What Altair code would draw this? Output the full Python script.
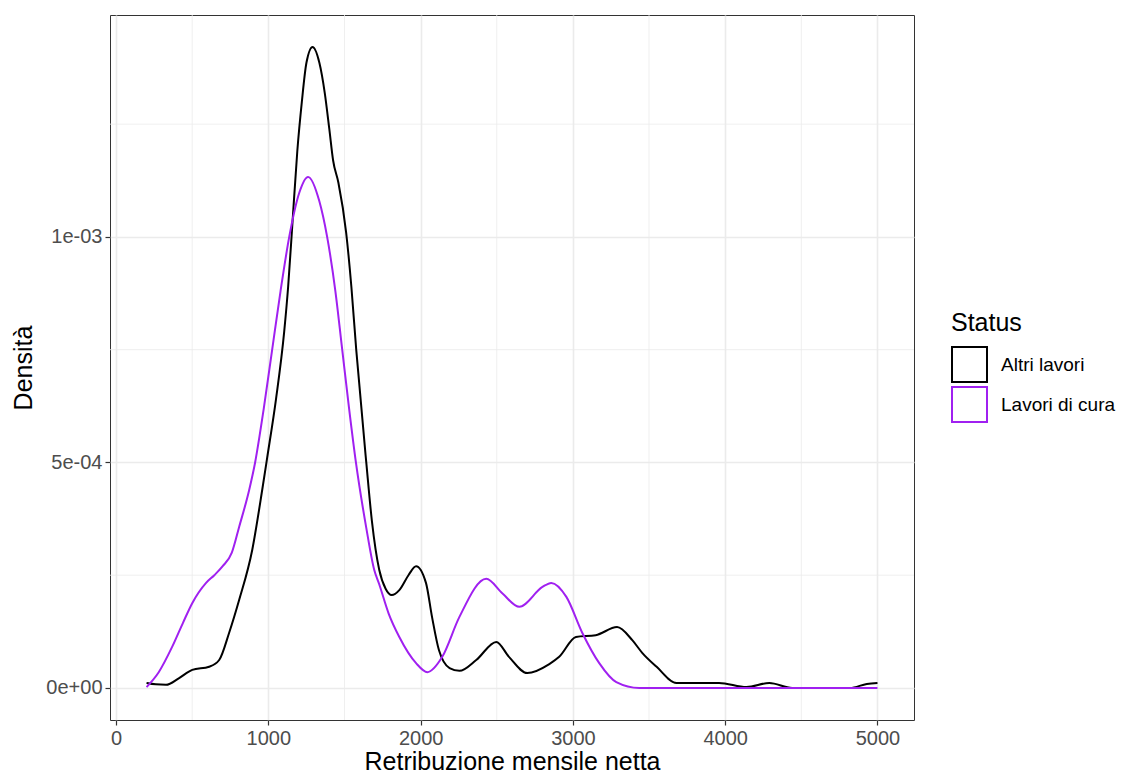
import altair as alt
import pandas as pd

# --- data ---
altri_x = [200, 260, 328, 414, 500, 611, 677, 742, 808, 894, 960, 992, 1050, 1104,
           1130, 1158, 1190, 1220, 1250, 1290, 1335, 1370, 1400, 1425, 1460, 1511,
           1545, 1577, 1643, 1680, 1728, 1770, 1810, 1860, 1920, 1970, 2035, 2075,
           2120, 2190, 2255, 2365, 2497, 2580, 2700, 2845, 2910, 3020, 3150, 3290,
           3390, 3455, 3550, 3680, 3830, 3960, 4140, 4290, 4440, 4820, 4930, 5000]
altri_y = [1.1e-5, 8e-6, 7e-6, 2.2e-5, 4.0e-5, 4.7e-5, 6.2e-5, 1.22e-4, 1.95e-4,
           3.06e-4, 4.4e-4, 5.1e-4, 6.4e-4, 7.9e-4, 8.9e-4, 1.03e-3, 1.19e-3, 1.30e-3,
           1.386e-3, 1.421e-3, 1.386e-3, 1.32e-3, 1.24e-3, 1.17e-3, 1.12e-3, 1.009e-3,
           8.9e-4, 7.5e-4, 5.0e-4, 3.7e-4, 2.62e-4, 2.2e-4, 2.06e-4, 2.17e-4, 2.5e-4,
           2.7e-4, 2.33e-4, 1.57e-4, 8.4e-5, 4.4e-5, 3.8e-5, 6.2e-5, 1.02e-4, 6.9e-5,
           3.3e-5, 5.3e-5, 6.9e-5, 1.13e-4, 1.17e-4, 1.35e-4, 1.06e-4, 7.8e-5, 4.7e-5,
           1.1e-5, 1.1e-5, 1.1e-5, 2e-6, 1.1e-5, 0.0, 0.0, 9e-6, 1.1e-5]

cura_x = [200, 280, 368, 440, 500, 591, 645, 700, 760, 808, 874, 913, 970, 1025, 1080,
          1137, 1203, 1261, 1334, 1386, 1440, 1485, 1530, 1575, 1643, 1695, 1728, 1790,
          1860, 1970, 2044, 2142, 2254, 2431, 2536, 2648, 2800, 2858, 2957, 3062, 3173,
          3285, 3436, 4000, 5000]
cura_y = [2e-6, 3.5e-5, 9.1e-5, 1.45e-4, 1.88e-4, 2.33e-4, 2.5e-4, 2.7e-4, 3.0e-4,
          3.57e-4, 4.39e-4, 5.0e-4, 6.2e-4, 7.5e-4, 8.8e-4, 1.0e-3, 1.098e-3, 1.133e-3,
          1.08e-3, 1.0e-3, 8.8e-4, 7.5e-4, 6.2e-4, 5.0e-4, 3.55e-4, 2.62e-4, 2.3e-4,
          1.65e-4, 1.13e-4, 5.5e-5, 3.5e-5, 6.9e-5, 1.57e-4, 2.42e-4, 2.1e-4, 1.8e-4,
          2.24e-4, 2.33e-4, 2.02e-4, 1.22e-4, 5.5e-5, 1.3e-5, 0.0, 0.0, 0.0]

series = ["Altri lavori", "Lavori di cura"]
colors = ["#000000", "#A020F0"]

x_ticks = [0, 1000, 2000, 3000, 4000, 5000]
x_minor = [500, 1500, 2500, 3500, 4500]
y_ticks = [0, 0.0005, 0.001]
y_tick_labels = ["0e+00", "5e-04", "1e-03"]
y_minor = [0.00025, 0.00075, 0.00125]

x_domain = [-40, 5240]
y_domain = [-0.000071, 0.001492]

FONT = "Liberation Sans"

df = pd.concat([
    pd.DataFrame({"x": altri_x, "y": altri_y, "Status": series[0]}),
    pd.DataFrame({"x": cura_x, "y": cura_y, "Status": series[1]}),
])

label_expr = " : ".join(
    f"abs(datum.value - {v}) < 1e-9 ? '{l}'" for v, l in zip(y_ticks, y_tick_labels)
) + " : ''"

xscale = alt.Scale(domain=x_domain, nice=False, zero=False)
yscale = alt.Scale(domain=y_domain, nice=False, zero=False)

x_axis = alt.Axis(values=x_ticks, title="Retribuzione mensile netta",
                  format="d", titlePadding=1, labelPadding=3)
y_axis = alt.Axis(values=y_ticks, title="Densità", labelExpr=label_expr,
                  titlePadding=9)

vminor = alt.Chart(pd.DataFrame({"x": x_minor})).mark_rule(
    color="#EBEBEB", strokeWidth=0.8
).encode(x=alt.X("x:Q", scale=xscale, axis=x_axis))

hminor = alt.Chart(pd.DataFrame({"y": y_minor})).mark_rule(
    color="#EBEBEB", strokeWidth=0.8
).encode(y=alt.Y("y:Q", scale=yscale, axis=y_axis))

lines = alt.Chart(df).mark_line(strokeWidth=2, interpolate="monotone").encode(
    x=alt.X("x:Q", scale=xscale, axis=x_axis),
    y=alt.Y("y:Q", scale=yscale, axis=y_axis),
    color=alt.Color("Status:N",
                    scale=alt.Scale(domain=series, range=colors),
                    legend=alt.Legend(title="Status", orient="none",
                                      legendX=841, legendY=296)),
)

chart = alt.layer(vminor, hminor, lines).properties(
    width=804, height=705,
    autosize=alt.AutoSizeParams(type="none"),
    padding={"left": 102, "top": 7, "right": 204, "bottom": 56},
).configure(
    font=FONT,
).configure_view(
    stroke="#333333", strokeWidth=1,
).configure_axis(
    domain=False,
    grid=True,
    gridColor="#EBEBEB",
    gridWidth=1.6,
    tickColor="#333333",
    tickSize=5,
    tickWidth=1.2,
    labelColor="#4D4D4D",
    labelFontSize=20,
    labelFont=FONT,
    labelPadding=3,
    titleFont=FONT,
    titleFontSize=25,
    titleFontWeight="normal",
    titleColor="#000000",
).configure_legend(
    titleFont=FONT,
    titleFontSize=25,
    titleFontWeight="normal",
    titleColor="#000000",
    titlePadding=10,
    labelFont=FONT,
    labelFontSize=19,
    labelColor="#000000",
    labelOffset=13,
    symbolType="square",
    symbolSize=1225,
    symbolStrokeWidth=2,
    symbolFillColor="white",
    rowPadding=-5,
    padding=0,
)

chart.save("out.html", embed_options={"renderer": "svg", "actions": False})
